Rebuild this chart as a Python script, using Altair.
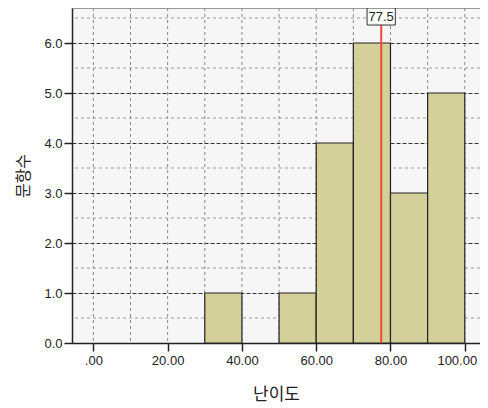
import altair as alt
import pandas as pd

# ---- data ----
bin_start = [30, 50, 60, 70, 80, 90]
bin_end = [40, 60, 70, 80, 90, 100]
counts = [1, 1, 4, 6, 3, 5]
mean_value = 77.5
x_tick_values = [0, 20, 40, 60, 80, 100]
y_tick_values = [0, 1, 2, 3, 4, 5, 6]
x_grid_values = [0, 10, 20, 30, 40, 50, 60, 70, 80, 90, 100]
y_minor_values = [0.5, 1.5, 2.5, 3.5, 4.5, 5.5, 6.5]

bars_df = pd.DataFrame({"start": bin_start, "end": bin_end, "count": counts,
                        "base": [0] * len(counts)})
mean_df = pd.DataFrame({"mean": [mean_value],
                        "lo": [mean_value - 3.8], "hi": [mean_value + 3.8],
                        "label": [str(mean_value)]})
vgrid_df = pd.DataFrame({"start": x_grid_values})
hgrid_df = pd.DataFrame({"count": y_minor_values})

x_scale = alt.Scale(domain=[-5.75, 104.1], nice=False, zero=False)
y_scale = alt.Scale(domain=[0, 6.7], nice=False)

DARK = "#222222"

x_axis = alt.Axis(
    values=x_tick_values,
    labelExpr="datum.value == 0 ? '.00' : format(datum.value, '.2f')",
    labelOffset={"condition": {"test": "datum.value == 100", "value": -8}, "value": 0},
    title="난이도", grid=False, tickSize=8, tickColor=DARK, tickWidth=1.5,
    domainColor=DARK, domainWidth=1.5, labelFontSize=13,
    labelFont="Liberation Sans", labelColor=DARK, labelPadding=3,
    titleFont="Noto Sans CJK KR", titleFontSize=17, titleFontWeight="normal",
    titleColor=DARK, titleY=51, titleBaseline="middle",
)
y_axis = alt.Axis(
    values=y_tick_values, format=".1f", grid=True, gridDash=[4, 2],
    gridColor="#333333", gridWidth=1, tickSize=8, tickColor=DARK, tickWidth=1.5,
    domainColor=DARK, domainWidth=1.5, labelFontSize=13,
    labelFont="Liberation Sans", labelColor=DARK, labelPadding=2,
    title="문항수", titleFont="Noto Sans CJK KR", titleFontSize=16,
    titleFontWeight="normal", titleColor=DARK, titleX=-49,
    titleBaseline="middle", titleAngle=270,
)

vgrid = alt.Chart(vgrid_df).mark_rule(color="#8a8a8a", strokeDash=[3, 3], strokeWidth=1).encode(
    x=alt.X("start:Q", scale=x_scale, axis=x_axis)
)
hgrid = alt.Chart(hgrid_df).mark_rule(color="#9a9a9a", strokeDash=[3, 3], strokeWidth=1).encode(
    y=alt.Y("count:Q", scale=y_scale, axis=y_axis)
)
bars = alt.Chart(bars_df).mark_rect(fill="#d4d099", stroke=DARK, strokeWidth=1.2).encode(
    x=alt.X("start:Q", scale=x_scale, axis=x_axis),
    x2="end:Q",
    y=alt.Y("count:Q", scale=y_scale, axis=y_axis),
    y2="base:Q",
)
mean_line = alt.Chart(mean_df).mark_rule(color="#ee4b3a", strokeWidth=2).encode(
    x=alt.X("mean:Q", scale=x_scale, axis=x_axis)
)
mean_box = alt.Chart(mean_df).mark_rect(fill="white", stroke="#333333", strokeWidth=1).encode(
    x=alt.X("lo:Q", scale=x_scale, axis=x_axis),
    x2="hi:Q",
    y=alt.value(0),
    y2=alt.value(17),
)
mean_text = alt.Chart(mean_df).mark_text(fontSize=13, font="Liberation Sans", color=DARK,
                                         baseline="middle", align="center").encode(
    x=alt.X("mean:Q", scale=x_scale, axis=x_axis),
    y=alt.value(9),
    text="label:N",
)

chart = alt.layer(vgrid, hgrid, bars, mean_line, mean_box, mean_text).properties(
    width=408, height=335,
    autosize=alt.AutoSizeParams(type="none"),
    padding={"left": 64, "top": 0, "right": 0, "bottom": 61},
).configure_view(fill="#f6f6f6", stroke="#999999", strokeWidth=1)

chart.save("out.html", embed_options={"renderer": "svg", "actions": False})
